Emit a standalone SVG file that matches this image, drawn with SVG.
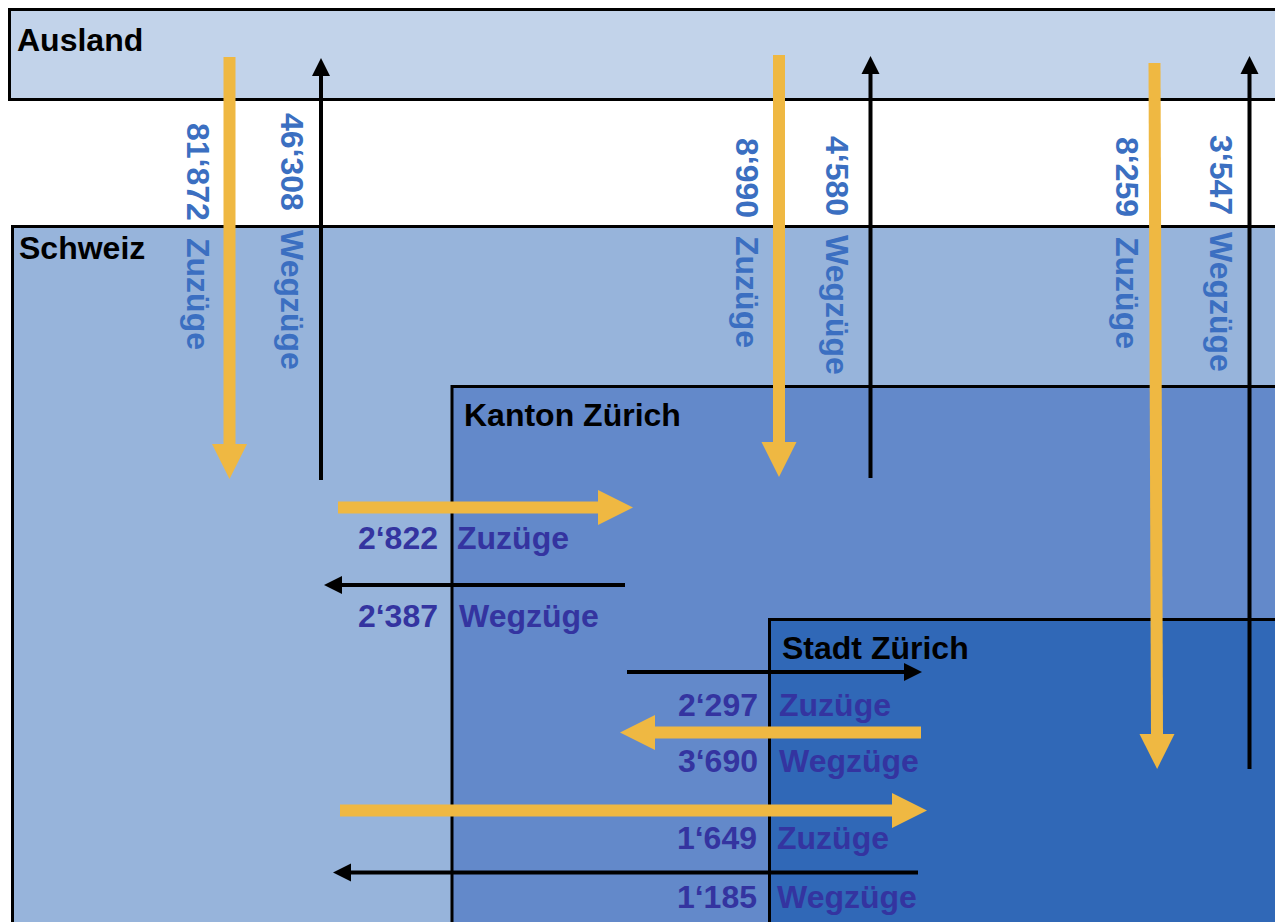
<svg xmlns="http://www.w3.org/2000/svg" width="1275" height="922" viewBox="0 0 1275 922">
<style>
.box{stroke:#000;stroke-width:3}
.title{font-family:"Liberation Sans",Arial,sans-serif;font-weight:bold;font-size:32px;fill:#000}
.vt{font-family:"Liberation Sans",Arial,sans-serif;font-weight:bold;font-size:32px;fill:#3B6FC1}
.ht{font-family:"Liberation Sans",Arial,sans-serif;font-weight:bold;font-size:32px;fill:#3434A0}
.num{text-anchor:end}
.ya{stroke:#EFB842;stroke-width:12;fill:none;marker-end:url(#yh)}
.ba{stroke:#000;stroke-width:4;fill:none;marker-end:url(#bh)}
</style>
<defs>
<marker id="yh" markerUnits="userSpaceOnUse" viewBox="0 -18 36 36" refX="1" refY="0" markerWidth="36" markerHeight="36" orient="auto" overflow="visible">
<path d="M0,-17.5 L35,0 L0,17.5 Z" fill="#EFB842"/>
</marker>
<marker id="bh" markerUnits="userSpaceOnUse" viewBox="0 -10 20 20" refX="1" refY="0" markerWidth="20" markerHeight="20" orient="auto" overflow="visible">
<path d="M0,-9 L18,0 L0,9 Z" fill="#000"/>
</marker>
</defs>
<rect width="1275" height="922" fill="#fff"/>
<g id="ausland">
<rect class="box" x="9.5" y="9.5" width="1280" height="90" fill="#C2D3EA"/>
<text class="title" x="17" y="51">Ausland</text>
</g>
<g id="schweiz">
<rect class="box" x="12.5" y="226.5" width="1280" height="720" fill="#97B4DB"/>
<text class="title" x="19" y="259">Schweiz</text>
</g>
<g id="kanton">
<rect class="box" x="452" y="386.5" width="900" height="600" fill="#6389CA"/>
<text class="title" x="464" y="426">Kanton Zürich</text>
</g>
<g id="stadt">
<rect class="box" x="769.5" y="619.5" width="600" height="400" fill="#3068B7"/>
<text class="title" x="782" y="659">Stadt Zürich</text>
</g>
<g id="connectors">
<line class="ya" x1="229.5" y1="57" x2="229.5" y2="445"/>
<line class="ba" x1="321" y1="480" x2="321" y2="75"/>
<line class="ya" x1="779" y1="55" x2="779" y2="443"/>
<line class="ba" x1="870.5" y1="478" x2="870.5" y2="73"/>
<line class="ya" x1="1154.5" y1="63" x2="1157" y2="735"/>
<line class="ba" x1="1249.5" y1="769" x2="1249.5" y2="73"/>
<line class="ya" x1="338" y1="507.5" x2="599" y2="507.5"/>
<line class="ba" x1="625" y1="585" x2="341" y2="585"/>
<line class="ba" x1="627" y1="672" x2="905" y2="672"/>
<line class="ya" x1="921" y1="732.5" x2="654" y2="732.5"/>
<line class="ya" x1="340" y1="810.5" x2="893" y2="810.5"/>
<line class="ba" x1="918" y1="872.5" x2="350" y2="872.5"/>
</g>
<g id="labels">
<text class="vt" transform="translate(187,123) rotate(90)">81‘872</text>
<text class="vt" transform="translate(187,238) rotate(90)">Zuzüge</text>
<text class="vt" transform="translate(281,113) rotate(90)">46‘308</text>
<text class="vt" transform="translate(281,230) rotate(90)">Wegzüge</text>
<text class="vt" transform="translate(736,138) rotate(90)">8‘990</text>
<text class="vt" transform="translate(736,236) rotate(90)">Zuzüge</text>
<text class="vt" transform="translate(826,136) rotate(90)">4‘580</text>
<text class="vt" transform="translate(826,235) rotate(90)">Wegzüge</text>
<text class="vt" transform="translate(1116,137) rotate(90)">8‘259</text>
<text class="vt" transform="translate(1116,237) rotate(90)">Zuzüge</text>
<text class="vt" transform="translate(1210,135) rotate(90)">3‘547</text>
<text class="vt" transform="translate(1210,232) rotate(90)">Wegzüge</text>
<text class="ht num" x="438" y="549">2‘822</text>
<text class="ht" x="457" y="549">Zuzüge</text>
<text class="ht num" x="438" y="627">2‘387</text>
<text class="ht" x="459" y="627">Wegzüge</text>
<text class="ht num" x="758" y="716">2‘297</text>
<text class="ht" x="779" y="716">Zuzüge</text>
<text class="ht num" x="758" y="772">3‘690</text>
<text class="ht" x="779" y="772">Wegzüge</text>
<text class="ht num" x="757" y="849">1‘649</text>
<text class="ht" x="777" y="849">Zuzüge</text>
<text class="ht num" x="757" y="908">1‘185</text>
<text class="ht" x="777" y="908">Wegzüge</text>
</g>
</svg>
